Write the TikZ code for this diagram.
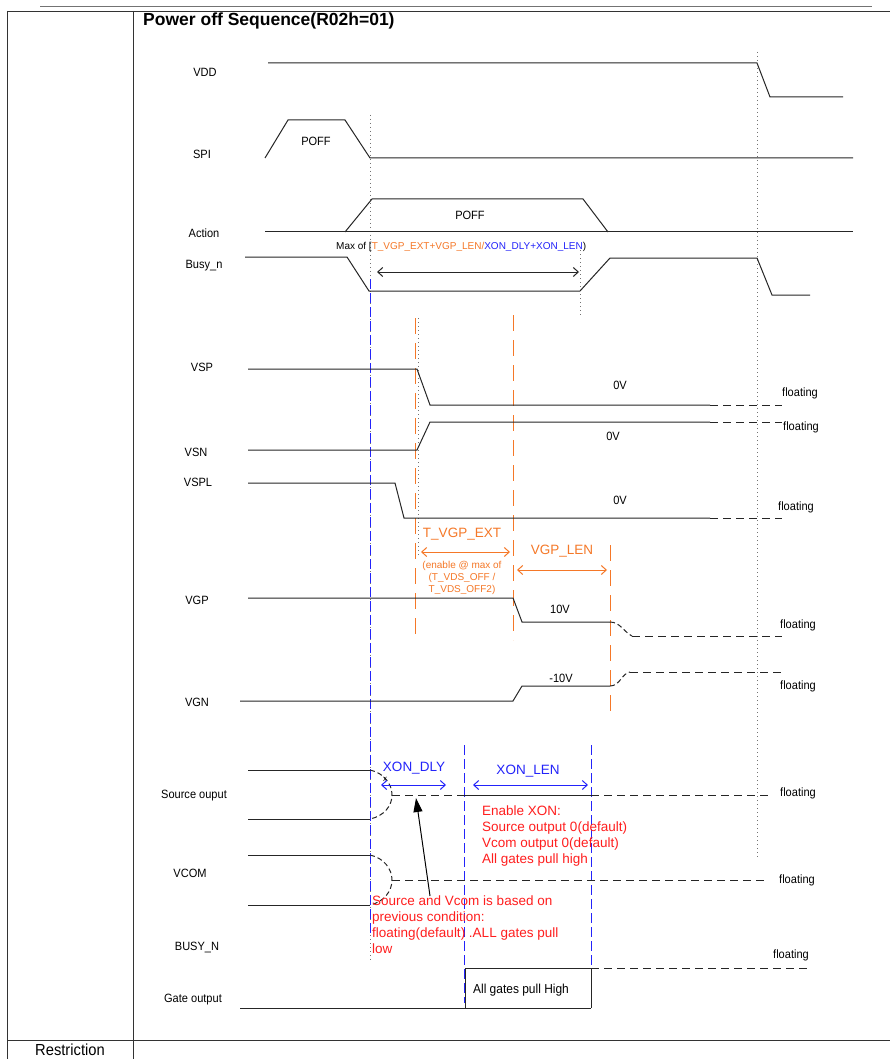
\documentclass[tikz,border=0pt]{standalone}
\usepackage{fontspec}
\setmainfont{Liberation Sans}
\newfontfamily\nfont{Liberation Sans}[FakeStretch=0.92]
\usetikzlibrary{arrows.meta}
\definecolor{tor}{RGB}{245,120,40}
\definecolor{tbl}{RGB}{35,35,250}
\definecolor{trd}{RGB}{255,30,30}
\begin{document}
\begin{tikzpicture}[x=1pt,y=-1pt,
  sig/.style={line width=1pt, black!85},
  flt/.style={sig, dash pattern=on 8pt off 5pt},
  arcd/.style={sig, dash pattern=on 5pt off 3pt},
  dotv/.style={black!55, line width=0.7pt, dash pattern=on 1pt off 3pt},
  bdash/.style={tbl, line width=1pt, dash pattern=on 10pt off 4pt},
  odash/.style={tor, line width=0.9pt, dash pattern=on 16pt off 9pt},
  lbl/.style={font=\nfont\fontsize{12}{14}\selectfont, inner sep=0pt},
  rtxt/.style={font=\fontsize{13.5}{16}\selectfont, text=trd, align=left, inner sep=0pt, anchor=north west},
  otxt/.style={font=\fontsize{13.5}{16}\selectfont, text=tor, inner sep=0pt},
  btxt/.style={font=\fontsize{13.5}{16}\selectfont, text=tbl, inner sep=0pt},
  barb/.style={line width=1pt, {Straight Barb[length=5pt,width=9pt]}-{Straight Barb[length=5pt,width=9pt]}},
  tline/.style={line width=0.9pt, black!80}
]
\useasboundingbox (0,0) rectangle (890,1059);
\fill[white] (0,0) rectangle (890,1059);
% table
\draw[black!55, line width=0.7pt] (40,6) -- (872,6);
\draw[tline] (7,11) -- (890,11);
\draw[tline] (7,11) -- (7,1059);
\draw[tline] (133,11) -- (133,1059);
\draw[tline] (7,1040) -- (890,1040);
\node[font=\bfseries\fontsize{17.5}{19}\selectfont, anchor=west, inner sep=0pt] (title) at (143,21) {Power off Sequence(R02h=01)};
\node[font=\nfont\fontsize{16}{18}\selectfont, inner sep=0pt, anchor=north] (restr) at (70,1044) {Restriction};

% vertical guides
\draw[dotv] (370,115) -- (370,960);
\draw[dotv] (757,52) -- (757,860);
\draw[dotv] (580,250) -- (580,315);
\draw[dotv] (418,318) -- (418,555);
\draw[bdash] (370,279) -- (370,935);
\draw[odash] (415,318) -- (415,636);
\draw[odash] (513,315) -- (513,640);
\draw[odash] (610,545) -- (610,712);
\draw[bdash] (464,745) -- (464,1003);
\draw[bdash] (591,745) -- (591,1003);

% labels
\node[lbl] (lvdd) at (205,72) {VDD};
\node[lbl] (lspi) at (202,154) {SPI};
\node[lbl] (lact) at (204,233) {Action};
\node[lbl] (lbusy) at (204,266) {Busy\_n};
\node[lbl] (lvsp) at (202,367) {VSP};
\node[lbl] (lvsn) at (196,452) {VSN};
\node[lbl] (lvspl) at (198,482) {VSPL};
\node[lbl] (lvgp) at (197,600) {VGP};
\node[lbl] (lvgn) at (197,702) {VGN};
\node[lbl] (lsrc) at (194,796) {Source ouput};
\node[lbl] (lvcom) at (190,873) {VCOM};
\node[lbl] (lbusyn) at (197,947) {BUSY\_N};
\node[lbl] (lgate) at (193,1000) {Gate output};

% VDD
\draw[sig] (268,63) -- (757,63) -- (770,97) -- (843,97);
% SPI
\draw[sig] (265,158) -- (288,120) -- (345,120) -- (370,158) -- (853,158);
\node[lbl] (spipoff) at (316,141) {POFF};
% Action
\draw[sig] (265,232) -- (853,232);
\draw[sig] (345,232) -- (372,199) -- (583,199) -- (608,232);
\node[lbl] (actpoff) at (470,215) {POFF};
% Busy_n
\draw[sig] (245,257) -- (347,257) -- (369,291) -- (580,291) -- (610,258) -- (757,258) -- (772,295) -- (810,295);
\node[font=\fontsize{10}{12}\selectfont, inner sep=0pt, anchor=west] (maxof) at (336,247)
  {Max of [\textcolor{tor}{T\_VGP\_EXT+VGP\_LEN/}\textcolor{tbl}{XON\_DLY+XON\_LEN}{)}};
\coordinate (ba) at (377,272);
\coordinate (bb) at (579,272);
\draw[barb, black!85] (ba) -- (bb);

% VSP
\draw[sig] (248,369) -- (417,369) -- (430,405) -- (710,405);
\draw[flt] (710,405) -- (782,405);
\node[lbl] (vsp0) at (620,385) {0V};
\node[lbl] (vspf) at (800,393) {floating};
% VSN
\draw[sig] (248,450) -- (417,450) -- (430,422) -- (710,422);
\draw[flt] (710,422) -- (782,422);
\node[lbl] (vsn0) at (613,436) {0V};
\node[lbl] (vsnf) at (801,427) {floating};
% VSPL
\draw[sig] (248,483) -- (395,483) -- (404,518) -- (710,518);
\draw[flt] (710,518) -- (782,518);
\node[lbl] (vspl0) at (620,500) {0V};
\node[lbl] (vsplf) at (796,507) {floating};

% T_VGP_EXT / VGP_LEN
\node[otxt] (tvgp) at (462,534) {T\_VGP\_EXT};
\coordinate (ta) at (421,552);
\coordinate (tb) at (510,552);
\draw[barb, tor] (ta) -- (tb);
\node[font=\fontsize{10}{12}\selectfont, text=tor, align=center, inner sep=0pt] (tnote) at (462,578)
  {(enable @ max of\\(T\_VDS\_OFF /\\T\_VDS\_OFF2)};
\node[otxt] (vgplen) at (562,551) {VGP\_LEN};
\coordinate (va) at (517,570);
\coordinate (vb) at (607,570);
\draw[barb, tor] (va) -- (vb);

% VGP
\draw[sig] (248,598) -- (513,598) -- (522,622) -- (610,622);
\draw[arcd] (610,622) .. controls (620,622) and (624,632) .. (632,636);
\draw[flt] (632,636) -- (782,636);
\node[lbl] (vgp10) at (560,609) {10V};
\node[lbl] (vgpf) at (798,625) {floating};
% VGN
\draw[sig] (240,701) -- (513,701) -- (522,686) -- (610,686);
\draw[arcd] (610,686) .. controls (620,686) and (622,673) .. (630,672);
\draw[flt] (630,672) -- (782,672);
\node[lbl] (vgn10) at (561,678) {-10V};
\node[lbl] (vgnf) at (798,686) {floating};

% Source output
\draw[sig] (248,770) -- (370,770);
\draw[sig] (248,819) -- (370,819);
\draw[arcd] (370,770) .. controls (384,773) and (392,784) .. (392,795) .. controls (392,806) and (384,816) .. (370,819);
\draw[flt] (392,795) -- (464,795);
\draw[sig] (464,795) -- (591,795);
\draw[flt] (591,795) -- (768,795);
\node[lbl] (srcf) at (798,793) {floating};
\node[font=\fontsize{8}{9}\selectfont, inner sep=0pt] (xmark) at (385,779) {x};
\node[btxt] (xdly) at (414,768) {XON\_DLY};
\coordinate (xa) at (381,785);
\coordinate (xb) at (446,785);
\draw[barb, tbl] (xa) -- (xb);
\node[btxt] (xlen) at (528,771) {XON\_LEN};
\coordinate (la) at (473,785);
\coordinate (lb) at (588,785);
\draw[barb, tbl] (la) -- (lb);
\node[rtxt] (enx) at (482,806) {Enable XON:\\Source output 0(default)\\Vcom output 0(default)\\All gates pull high};

% VCOM
\draw[sig] (248,855) -- (370,855);
\draw[sig] (248,905) -- (370,905);
\draw[arcd] (370,855) .. controls (384,858) and (392,869) .. (392,880) .. controls (392,891) and (384,902) .. (370,905);
\draw[flt] (392,880) -- (768,880);
\node[lbl] (vcomf) at (797,880) {floating};
\node[rtxt] (prev) at (372,896) {Source and Vcom is based on\\previous condition:\\floating(default) .ALL gates pull\\low};
\coordinate (pa) at (430,896);
\coordinate (pb) at (416,798);
\draw[line width=1pt, -{Triangle[length=14pt,width=9pt]}] (pa) -- (pb);

% BUSY_N / Gate output
\node[lbl] (busyf) at (791,955) {floating};
\draw[sig] (240,1008) -- (591,1008);
\draw[sig] (465,1008) -- (465,968) -- (591,968) -- (591,1008);
\draw[flt] (591,968) -- (810,968);
\node[font=\nfont\fontsize{13}{15}\selectfont, inner sep=0pt] (agph) at (521,990) {All gates pull High};
\end{tikzpicture}
\end{document}
